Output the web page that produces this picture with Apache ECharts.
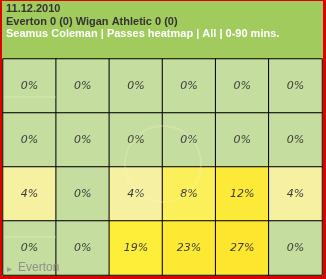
<!DOCTYPE html>
<html><head><meta charset="utf-8">
<script src="https://cdn.jsdelivr.net/npm/echarts@6/dist/echarts.min.js"></script>
<style>html,body{margin:0;padding:0;background:#e00000;}#c{width:326px;height:279px;}</style>
</head><body><div id="c"></div>
<script>
const titleLines = ["11.12.2010", "Everton 0 (0) Wigan Athletic 0 (0)", "Seamus Coleman | Passes heatmap | All | 0-90 mins."];
const columns = ["c1","c2","c3","c4","c5","c6"];
const rows = ["r1","r2","r3","r4"];
const row1 = [0,0,0,0,0,0];
const row2 = [0,0,0,0,0,0];
const row3 = [4,0,4,8,12,4];
const row4 = [0,0,19,23,27,0];
const footer = "Everton";

const allRows = [row1,row2,row3,row4];
const data = [];
allRows.forEach((r,ri)=>r.forEach((v,ci)=>data.push([ci,ri,v])));

const chart = echarts.init(document.getElementById('c'));
chart.setOption({
  backgroundColor: '#e00000',
  animation: false,
  graphic: [
    {type:'rect', shape:{x:2,y:1,width:321,height:275}, style:{fill:'#a2cb5e'}, z:0, silent:true},
    {type:'text', left:6, top:3, style:{text:titleLines[0], font:'bold 11px "Liberation Sans", Arial', fill:'#333'}, z:5},
    {type:'text', left:6, top:16, style:{text:titleLines[1], font:'bold 11px "Liberation Sans", Arial', fill:'#333'}, z:5},
    {type:'text', left:6, top:28, style:{text:titleLines[2], font:'bold 11px "Liberation Sans", Arial', fill:'#fff'}, z:5},
    {type:'circle', shape:{cx:163, cy:164, r:38}, style:{fill:'none', stroke:'rgba(255,255,210,0.2)', lineWidth:2}, z:50, silent:true},
    {type:'line', shape:{x1:4,y1:97,x2:56,y2:97}, style:{stroke:'rgba(255,255,210,0.18)', lineWidth:2}, z:50, silent:true},
    {type:'line', shape:{x1:4,y1:237,x2:56,y2:237}, style:{stroke:'rgba(255,255,210,0.18)', lineWidth:2}, z:50, silent:true},
    {type:'text', left:7, top:264, style:{text:'\u25B8', font:'10px "Liberation Sans", Arial', fill:'#999'}, z:60},
    {type:'text', left:18, top:262, style:{text:footer, font:'12px "Liberation Sans", Arial', fill:'#8f8f8f'}, z:60}
  ],
  grid: {left:3, right:4, top:59, bottom:4},
  xAxis: {type:'category', data:columns, show:false},
  yAxis: {type:'category', data:rows, inverse:true, show:false},
  visualMap: {
    type:'piecewise', show:false, dimension:2,
    pieces:[
      {max:0.5, color:'#c5dd9e'},
      {min:0.5, max:6, color:'#f6f1a0'},
      {min:6, max:10, color:'#fbef5a'},
      {min:10, max:15, color:'#fdea38'},
      {min:15, max:21, color:'#fdee3a'},
      {min:21, max:25, color:'#fde934'},
      {min:25, color:'#fee52e'}
    ]
  },
  series: [{
    type:'heatmap', data:data,
    itemStyle:{borderColor:'#000', borderWidth:1},
    label:{show:true, formatter:p=>p.value[2]+'%', fontStyle:'italic', fontSize:11, color:'#3c3c3c', fontFamily:'"DejaVu Sans", Arial'},
    emphasis:{disabled:true}
  }]
});
</script></body></html>
